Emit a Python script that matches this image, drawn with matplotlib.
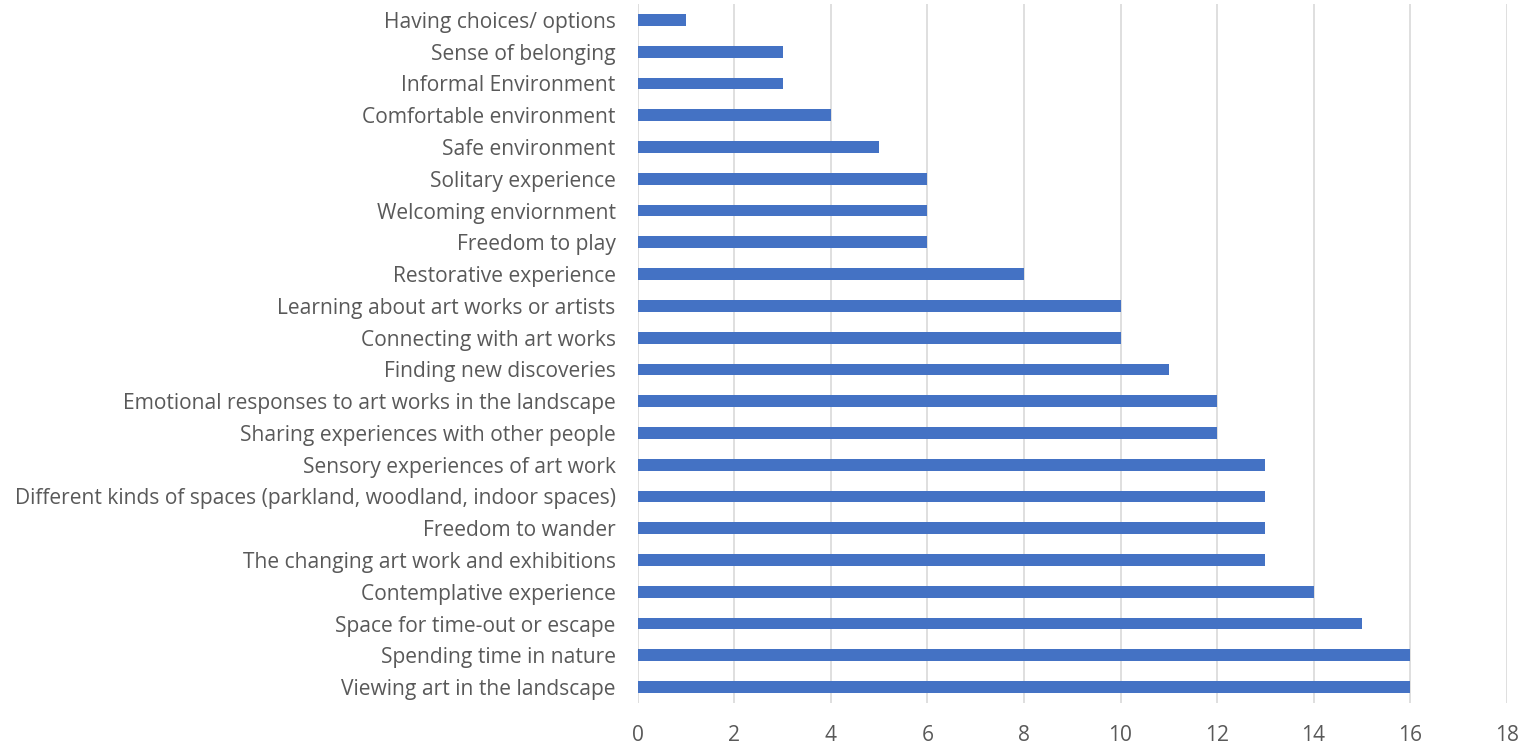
import numpy as np
import matplotlib.pyplot as plt

plt.rcParams['font.family'] = ['Open Sans', 'DejaVu Sans']

# categories listed from bottom to top
labels = [
    "Viewing art in the landscape",
    "Spending time in nature",
    "Space for time-out or escape",
    "Contemplative experience",
    "The changing art work and exhibitions",
    "Freedom to wander",
    "Different kinds of spaces (parkland, woodland, indoor spaces)",
    "Sensory experiences of art work",
    "Sharing experiences with other people",
    "Emotional responses to art works in the landscape",
    "Finding new discoveries",
    "Connecting with art works",
    "Learning about art works or artists",
    "Restorative experience",
    "Freedom to play",
    "Welcoming enviornment",
    "Solitary experience",
    "Safe environment",
    "Comfortable environment",
    "Informal Environment",
    "Sense of belonging",
    "Having choices/ options",
]
counts = [16, 16, 15, 14, 13, 13, 13, 13, 12, 12, 11, 10, 10, 8, 6, 6, 6, 5, 4, 3, 3, 1]
xticks = np.arange(0, 19, 2)

fig = plt.figure(figsize=(15.28, 7.47), dpi=100)
ax = fig.add_axes([0.4175, 0.0589, 0.986 - 0.4175, 0.9946 - 0.0589])

y = np.arange(len(labels))
ax.barh(y, counts, height=0.37, color="#4472C4", zorder=3)
ax.set_yticks(y)
ax.set_yticklabels(labels, fontsize=15.1, color="#595959")
ax.set_ylim(-0.5, len(labels) - 0.5)
ax.set_xlim(0, 18)
ax.set_xticks(xticks)
ax.tick_params(axis='x', labelsize=15.1, labelcolor="#595959", length=0, pad=16)
ax.tick_params(axis='y', length=0, pad=16)
ax.grid(axis='x', color="#D9D9D9", linewidth=1.2, zorder=0)
for s in ax.spines.values():
    s.set_visible(False)

fig.savefig("out.png", dpi=100)
